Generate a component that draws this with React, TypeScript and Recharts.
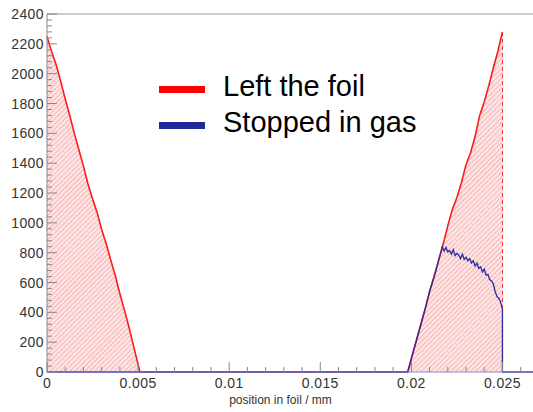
import { ComposedChart, Area, Line, XAxis, YAxis, ReferenceLine } from 'recharts'

// left of the foil: red "Left the foil" counts
const xLeft = [
  0, 0.00025, 0.0005, 0.00075, 0.001, 0.00125, 0.0015, 0.00175, 0.002, 0.00225, 0.0025,
  0.00275, 0.003, 0.00325, 0.0035, 0.00375, 0.004, 0.00425, 0.0045, 0.00475, 0.005, 0.0051,
]
const redLeft = [
  2250, 2150, 2060, 1950, 1830, 1720, 1600, 1490, 1380, 1260, 1160,
  1070, 955, 860, 750, 645, 525, 415, 300, 175, 50, 0,
]

// right side of the foil
const xRight = [
  0.0198, 0.02, 0.02025, 0.0205, 0.02075, 0.021, 0.02125, 0.0215, 0.02175, 0.022, 0.02225,
  0.0225, 0.02275, 0.023, 0.02325, 0.0235, 0.02375, 0.024, 0.02425, 0.0245, 0.02475, 0.025,
]
const redRight = [
  0, 90, 200, 310, 420, 540, 640, 750, 860, 980, 1090,
  1170, 1270, 1390, 1470, 1580, 1720, 1810, 1920, 2040, 2150, 2280,
]

// "Stopped in gas"
const xBlue = [
  0, 0.0198, 0.02, 0.02025, 0.0205, 0.02075, 0.021, 0.02125, 0.0215,
  0.0217, 0.0218, 0.0219, 0.022, 0.0221, 0.0222, 0.0223, 0.0224, 0.0225, 0.0226, 0.0227,
  0.0228, 0.0229, 0.023, 0.0231, 0.0232, 0.0233, 0.0234, 0.0235, 0.0236, 0.0237, 0.0238,
  0.0239, 0.024, 0.0241, 0.0242, 0.0243, 0.0244, 0.0245, 0.0246, 0.0247, 0.0248, 0.0249, 0.025,
]
const blueGas = [
  0, 0, 90, 200, 310, 420, 540, 640, 750,
  840, 810, 835, 805, 815, 790, 820, 780, 795, 785, 760,
  790, 755, 770, 745, 760, 730, 745, 710, 730, 695, 705,
  670, 690, 650, 655, 620, 610, 590, 540, 505, 495, 470, 420,
]

const foilEnd = 0.025
const xMax = 0.0275

const xMajorTicks = [0, 0.005, 0.01, 0.015, 0.02, 0.025]
const xTickLabels = ['0', '0.005', '0.01', '0.015', '0.02', '0.025']
const yMajorTicks = [0, 200, 400, 600, 800, 1000, 1200, 1400, 1600, 1800, 2000, 2200, 2400]

const legendItems = [
  { label: 'Left the foil', color: '#ff0000' },
  { label: 'Stopped in gas', color: '#22289a' },
]

const FONT = '"Liberation Sans", Arial, sans-serif'

// split each major interval into 5 for the minor ticks
function withMinor(majors: number[], parts: number, max: number) {
  const step = (majors[1] - majors[0]) / parts
  const out: number[] = []
  for (let v = 0; v <= max + step / 10; v += step) out.push(Number(v.toFixed(6)))
  return out
}
const xTicks = withMinor(xMajorTicks, 5, xMax)
const yTicks = withMinor(yMajorTicks, 5, 2400)

type Row = { x: number; red?: number; redEdge?: number; blue?: number }
const rowMap = new Map<string, Row>()
function put(x: number, key: 'red' | 'blue', v: number) {
  const k = x.toFixed(5)
  const r = rowMap.get(k) ?? { x }
  r[key] = v
  if (key === 'red') r.redEdge = v
  rowMap.set(k, r)
}
xLeft.forEach((x, i) => put(x, 'red', redLeft[i]))
xRight.forEach((x, i) => put(x, 'red', redRight[i]))
xBlue.forEach((x, i) => put(x, 'blue', blueGas[i]))
const rows: Row[] = [...rowMap.values()].sort((a, b) => a.x - b.x)
rows.push({ x: foilEnd, red: 0, blue: 0 }, { x: xMax, red: 0, blue: 0 })

const isMajor = (list: number[], v: number) => list.findIndex((t) => Math.abs(t - v) < 1e-9)

function XTick(props: any) {
  const { x, y, payload } = props
  const idx = isMajor(xMajorTicks, payload.value)
  return (
    <g>
      <line x1={x} x2={x} y1={y} y2={y - (idx >= 0 ? 10 : 5)} stroke="#888" />
      {idx >= 0 && (
        <text x={x} y={y + 16} textAnchor="middle" fontSize={14} letterSpacing={0.4} fill="#333" fontFamily={FONT}>
          {xTickLabels[idx]}
        </text>
      )}
    </g>
  )
}

function YTick(props: any) {
  const { x, y, payload } = props
  const idx = isMajor(yMajorTicks, payload.value)
  return (
    <g>
      <line x1={x} x2={x + (idx >= 0 ? 10 : 5)} y1={y} y2={y} stroke="#888" />
      {idx >= 0 && (
        <text x={x - 3} y={y + 5} textAnchor="end" fontSize={14} letterSpacing={0.4} fill="#333" fontFamily={FONT}>
          {yMajorTicks[idx]}
        </text>
      )}
    </g>
  )
}

export default function App() {
  const topRight = redRight[redRight.length - 1]
  return (
    <div
      style={{
        position: 'absolute', left: 0, top: 0, width: 533, height: 412,
        overflow: 'hidden', background: '#fff', fontFamily: FONT,
      }}
    >
      <ComposedChart width={560} height={412} data={rows} margin={{ top: 14, right: 12, left: 0, bottom: 0 }}>
        <defs>
          <pattern id="hatch" width="3.5" height="3.5" patternUnits="userSpaceOnUse" patternTransform="rotate(45)">
            <rect width="3.5" height="3.5" fill="#fde4e4" />
            <line x1="0" y1="0" x2="0" y2="3.5" stroke="#f59a9a" strokeWidth="1.2" />
          </pattern>
        </defs>
        <XAxis
          dataKey="x"
          type="number"
          domain={[0, xMax]}
          ticks={xTicks}
          interval={0}
          tick={<XTick />}
          tickLine={false}
          tickSize={0}
          tickMargin={0}
          axisLine={{ stroke: '#8a8ad8' }}
          height={40}
          label={{
            value: 'position in foil / mm', position: 'insideBottom', offset: 8, dx: -17,
            fontSize: 12, fill: '#333', fontFamily: FONT,
          }}
        />
        <YAxis
          type="number"
          domain={[0, 2400]}
          ticks={yTicks}
          interval={0}
          tick={<YTick />}
          tickLine={false}
          tickSize={0}
          tickMargin={0}
          axisLine={{ stroke: '#888' }}
          width={47}
        />
        <ReferenceLine y={2400} stroke="#999" strokeWidth={1.2} />
        <Area
          type="linear"
          dataKey="red"
          stroke="none"
          fill="url(#hatch)"
          fillOpacity={1}
          connectNulls
          isAnimationActive={false}
        />
        <ReferenceLine
          segment={[{ x: foilEnd, y: 0 }, { x: foilEnd, y: topRight }]}
          stroke="#ff3030"
          strokeDasharray="4 3"
        />
        <Line
          type="linear"
          dataKey="redEdge"
          stroke="#ff1a1a"
          strokeWidth={1.6}
          dot={false}
          connectNulls
          isAnimationActive={false}
        />
        <Line
          type="linear"
          dataKey="blue"
          stroke="#2a2aa0"
          strokeWidth={1.3}
          dot={false}
          connectNulls
          isAnimationActive={false}
        />
      </ComposedChart>
      {legendItems.map((item, i) => (
        <div key={item.label} style={{ position: 'absolute', left: 159, top: 73 + i * 36, height: 28 }}>
          <div
            style={{
              position: 'absolute', left: 0, top: 13, width: 46, height: 7, background: item.color,
            }}
          />
          <div
            style={{
              position: 'absolute', left: 64, top: -1, fontSize: 29, lineHeight: '29px',
              color: '#000', whiteSpace: 'nowrap',
            }}
          >
            {item.label}
          </div>
        </div>
      ))}
    </div>
  )
}
